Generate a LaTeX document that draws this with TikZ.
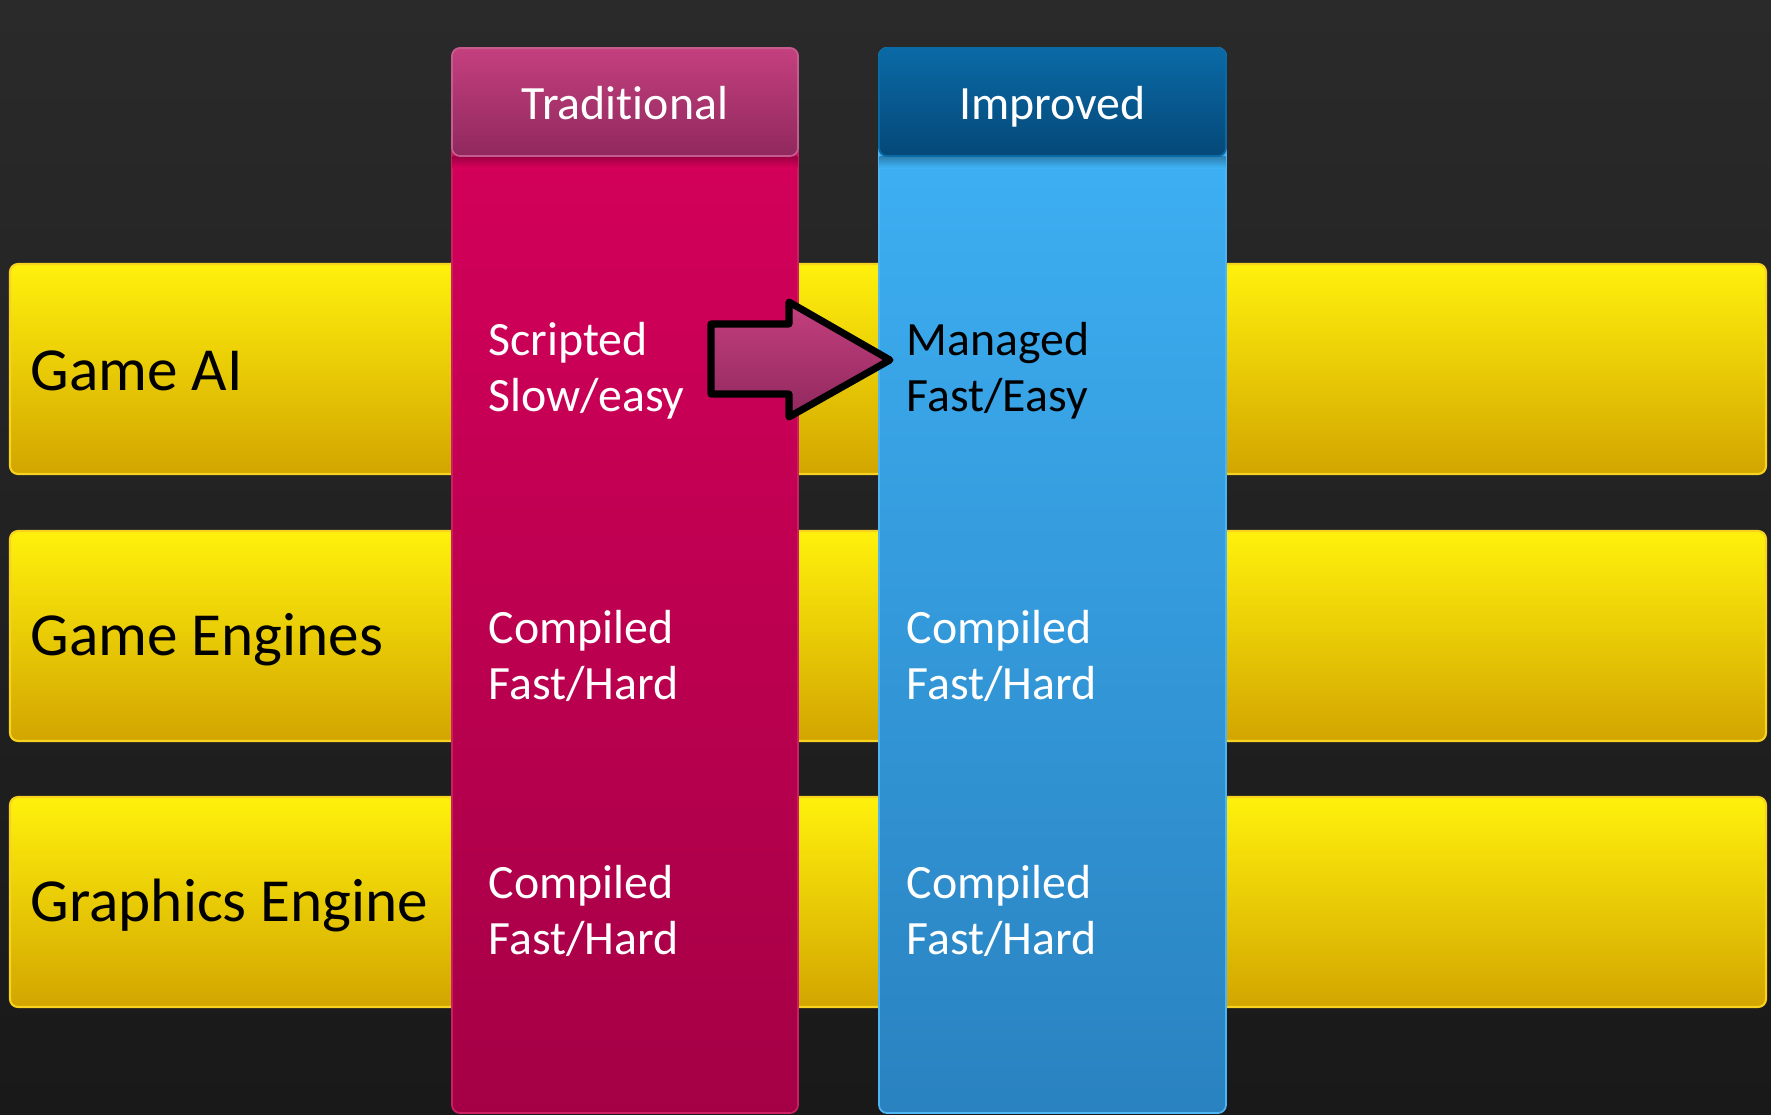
\documentclass[tikz,border=0pt]{standalone}
\usepackage{fontspec}
\setmainfont{Carlito}[Ligatures=NoCommon]
\definecolor{bgtop}{HTML}{2A2A2A}
\definecolor{bgbot}{HTML}{191919}
\definecolor{bandtop}{HTML}{FFF10C}
\definecolor{bandbot}{HTML}{D2A500}
\definecolor{bandline}{HTML}{F7D21E}
\definecolor{tradhead}{HTML}{C4407E}
\definecolor{tradheadlow}{HTML}{90285E}
\definecolor{tradheadedge}{HTML}{C45C8E}
\definecolor{tradtop}{HTML}{D8005C}
\definecolor{tradbot}{HTML}{A50046}
\definecolor{tradedge}{HTML}{CC1F63}
\definecolor{impohead}{HTML}{0A6AA6}
\definecolor{impoheadlow}{HTML}{054878}
\definecolor{impotop}{HTML}{3FB4F8}
\definecolor{impobot}{HTML}{2A82C0}
\definecolor{impoedge}{HTML}{4DB6F2}

\begin{document}
\begin{tikzpicture}[x=0.01cm,y=-0.01cm,
  band/.style={draw=bandline,line width=0.6pt,rounded corners=0.08cm,
    top color=bandtop,bottom color=bandbot},
  colbody/.style={rounded corners=0.08cm,line width=0.5pt},
  colhead/.style={rounded corners=0.08cm,line width=0.5pt},
  rowlabel/.style={anchor=base west,inner sep=0pt,
    font=\fontsize{17.4}{21}\selectfont},
  headlabel/.style={anchor=base,inner sep=0pt,text=white,
    font=\fontsize{13.6}{16}\selectfont},
  cell/.style={anchor=north west,inner sep=0pt,align=left,
    font=\fontsize{13.6}{15.9}\selectfont},
  bigarrow/.style={draw=black,line width=2pt,line join=round,
    top color=tradhead,bottom color=tradheadlow}]

\useasboundingbox (0,0) rectangle (1771,1114);
\shade[top color=bgtop,bottom color=bgbot] (0,0) rectangle (1771,1114);

% rows
\foreach \ya/\name/\txt/\base in {264/ai/Game AI/390,
    531/engines/Game Engines/655, 797/graphics/Graphics Engine/921}{
  \draw[band] (10,\ya) rectangle (1766,\ya+210);
  \node[rowlabel] (\name) at (30,\base) {\txt};
}

% columns
\draw[colbody,draw=tradedge,top color=tradtop,bottom color=tradbot]
  (452,48) rectangle (798,1113);
\shade[top color=tradtop!72!black,bottom color=tradtop] (452.6,156) rectangle (797.4,168);
\draw[colhead,draw=tradheadedge,top color=tradhead,bottom color=tradheadlow]
  (452,48) rectangle (798,156);

\draw[colbody,draw=impoedge,top color=impotop,bottom color=impobot]
  (879,48) rectangle (1226,1113);
\shade[top color=impotop!70!black,bottom color=impotop] (879.6,156) rectangle (1225.4,168);
\draw[colhead,draw=impohead,top color=impohead,bottom color=impoheadlow]
  (879,48) rectangle (1226,156);

\node[headlabel] (trad) at (625,119) {Traditional};
\node[headlabel] (impo) at (1052.5,119) {Improved};

\node[cell,text=white] (scripted) at (488,307) {\rule{0pt}{1em}Scripted\\Slow/easy};
\node[cell] (managed) at (906,307) {\rule{0pt}{1em}Managed\\Fast/Easy};
\node[cell,text=white] (tradengines) at (488,595) {\rule{0pt}{1em}Compiled\\Fast/Hard};
\node[cell,text=white] (impoengines) at (906,595) {\rule{0pt}{1em}Compiled\\Fast/Hard};
\node[cell,text=white] (tradgraphics) at (488,850) {\rule{0pt}{1em}Compiled\\Fast/Hard};
\node[cell,text=white] (impographics) at (906,850) {\rule{0pt}{1em}Compiled\\Fast/Hard};

\draw[bigarrow] (711,324) -- (789,324) -- (789,302) -- (890,360)
  -- (789,417) -- (789,394) -- (711,394) -- cycle;
\end{tikzpicture}
\end{document}
